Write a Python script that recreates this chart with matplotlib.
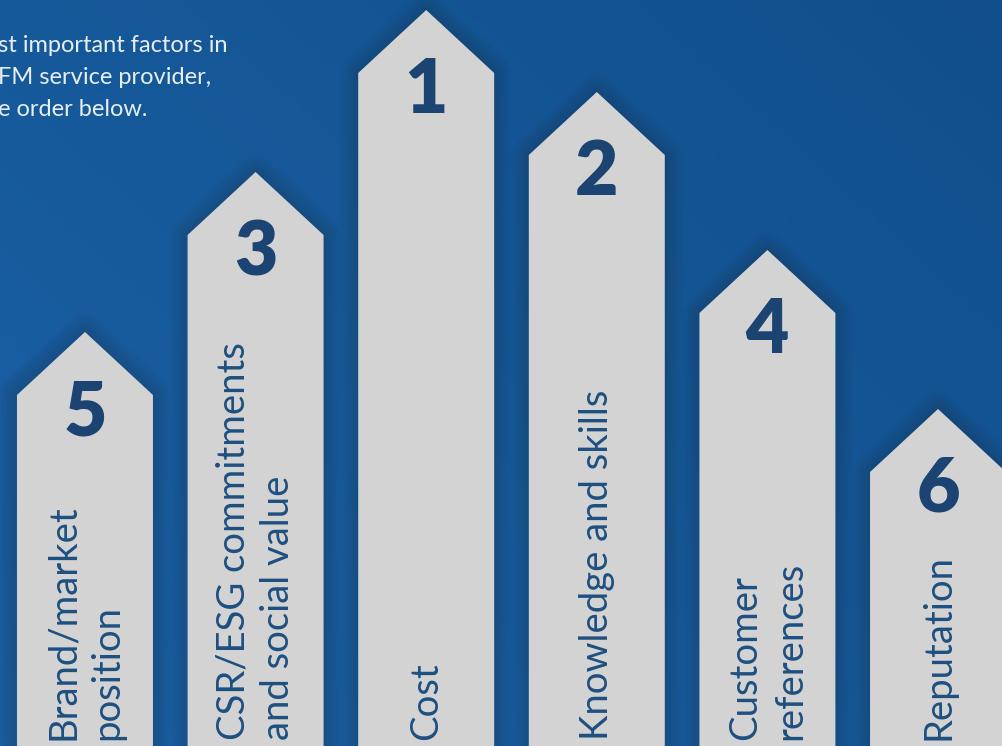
import matplotlib
matplotlib.use("Agg")
import matplotlib.pyplot as plt
import numpy as np
from matplotlib.patches import Polygon

# ---- data ----
factors = ["Brand/market\nposition", "CSR/ESG commitments\nand social value", "Cost",
           "Knowledge and skills", "Customer\nreferences", "Reputation"]
ranks = [5, 3, 1, 2, 4, 6]
heights = [351, 511, 673, 591, 433, 274]   # shoulder height of each arrow (px from bottom)
intro_lines = ["st important factors in", "FM service provider,", "e order below."]

# ---- style ----
W, H = 1002, 746
bar_w = 0.797
tip_h = 63
arrow_col = "#d3d3d3"
num_col = "#1b4472"
lab_col = "#1d4f80"

fig = plt.figure(figsize=(W / 100, H / 100), dpi=100)
ax = fig.add_axes([0, 0, 1, 1])
x0, x1 = -0.498, 5.375
ax.set_xlim(x0, x1)
ax.set_ylim(0, H)
ax.axis("off")

# background gradient
yy, xx = np.mgrid[0:1:200j, 0:1:200j]
t = np.clip(0.55 * xx + 0.45 * yy, 0, 1)
c_a = np.array([0x1a, 0x62, 0xa6]) / 255
c_b = np.array([0x11, 0x4e, 0x8b]) / 255
img = c_a[None, None, :] * (1 - t[..., None]) + c_b[None, None, :] * t[..., None]
ax.imshow(img, extent=[x0, x1, 0, H], aspect="auto", origin="lower", zorder=0)

for i, (lab, r, h) in enumerate(zip(factors, ranks, heights)):
    xl, xr = i - bar_w / 2, i + bar_w / 2
    pts = [(xl, -5), (xl, h), (i, h + tip_h), (xr, h), (xr, -5)]
    # soft glow
    for k in range(12, 0, -1):
        ax.add_patch(Polygon(pts, closed=True, facecolor="none", edgecolor="#1c3a5c",
                             lw=k * 2.2, alpha=0.03, joinstyle="round", zorder=1))
    ax.add_patch(Polygon(pts, closed=True, facecolor=arrow_col, edgecolor="none", zorder=2))
    ax.text(i, h - 18, str(r), ha="center", va="center", fontsize=54,
            fontweight="heavy", family="Lato", color=num_col, zorder=3)
    ax.text(i, 6, lab, rotation=90, ha="center", va="bottom", multialignment="left",
            fontsize=27.5, fontweight="normal", family="Lato", color=lab_col,
            linespacing=1.3, zorder=3)

for j, line in enumerate(intro_lines):
    fig.text(-0.002, 1 - (45 + 32 * j) / H, line, ha="left", va="center",
             fontsize=17, fontweight="normal", family="Lato", color="#e8eef5")

fig.savefig("out.png", dpi=100)
